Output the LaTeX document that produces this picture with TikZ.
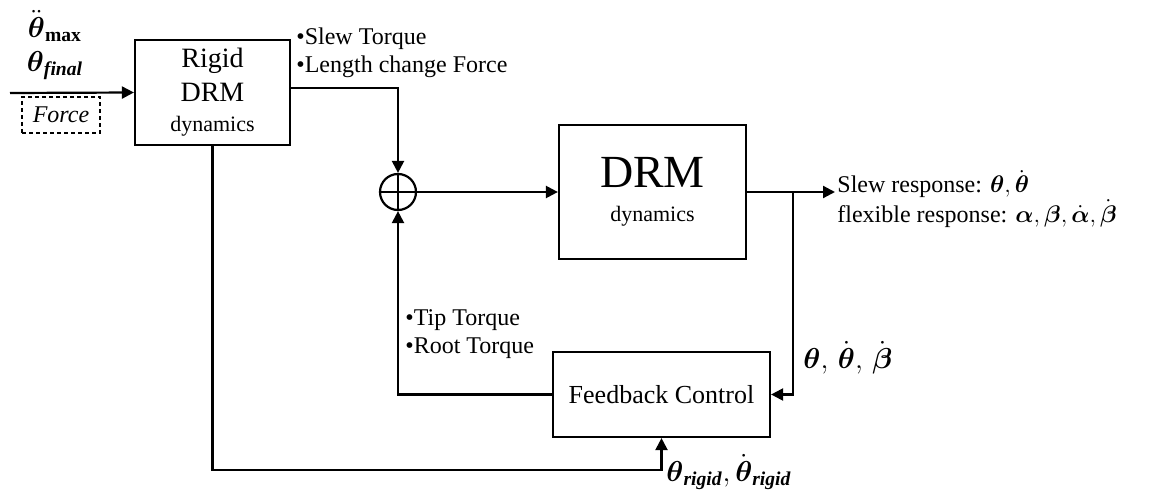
\documentclass[tikz,border=0pt]{standalone}
\usepackage{amsmath}
\usepackage{fontspec}
\setmainfont{Liberation Serif}
\usetikzlibrary{arrows.meta,positioning,calc}
\newcommand{\bsub}[1]{\text{\bfseries\itshape #1}}
\tikzset{
  block/.style={draw,line width=1.1pt,inner sep=0pt,align=center},
  sumnode/.style={draw,circle,line width=1.1pt,minimum size=18pt,inner sep=0pt,
    path picture={\draw[line width=1.1pt] (path picture bounding box.north) -- (path picture bounding box.south)
      (path picture bounding box.west) -- (path picture bounding box.east);}},
  sig/.style={-{Triangle[length=6pt,width=6pt]},line width=1.1pt},
  lbl/.style={inner sep=0pt,align=left},
}

\begin{document}
\begin{tikzpicture}[x=.5pt,y=-.5pt]
  \useasboundingbox (0,0) rectangle (1151,492);
  \node[block,minimum width=77.5pt,minimum height=52.5pt,font=\fontsize{14}{17}\selectfont] (rigid) at (212.5,92.5) {Rigid\\DRM\\[-2pt]{\fontsize{11}{13}\selectfont dynamics}};
  \node[block,minimum width=93.5pt,minimum height=67pt,font=\fontsize{23}{24}\selectfont] (drm) at (652.5,192) {DRM\\[-7pt]{\fontsize{11}{15}\selectfont dynamics}};
  \node[block,minimum width=108.5pt,minimum height=42.5pt,font=\fontsize{13}{15}\selectfont] (fb) at (661.5,394.5) {Feedback Control};
  \node[sumnode] (sum) at (398,192) {};

  \node[lbl,align=center,font=\fontsize{14}{17}\selectfont] (cmd) at (55,45) {$\ddot{\boldsymbol{\theta}}_{\mathbf{max}}$\\$\boldsymbol{\theta}_{\bsub{final}}$};
  \node[draw,dash pattern=on 2pt off 1.5pt,line width=.8pt,minimum width=39pt,minimum height=18pt,inner sep=0pt,font=\fontsize{12}{14}\selectfont\itshape] (force) at (61,115) {Force};
  \node[lbl,anchor=west,font=\fontsize{12}{14}\selectfont] (rigidout) at (296,53) {\textbullet Slew Torque\\\textbullet Length change Force};
  \node[lbl,anchor=west,font=\fontsize{12}{14}\selectfont] (fbout) at (405,334) {\textbullet Tip Torque\\\textbullet Root Torque};
  \node[lbl,anchor=west,font=\fontsize{12}{10.5}\selectfont] (resp) at (837,199) {Slew response: $\boldsymbol{\theta},\dot{\boldsymbol{\theta}}$\\flexible response: $\boldsymbol{\alpha},\boldsymbol{\beta},\dot{\boldsymbol{\alpha}},\dot{\boldsymbol{\beta}}$};
  \node[lbl,anchor=west,font=\fontsize{14}{17}\selectfont] (meas) at (803,358) {$\boldsymbol{\theta},\,\dot{\boldsymbol{\theta}},\,\dot{\boldsymbol{\beta}}$};
  \node[lbl,anchor=west,font=\fontsize{14}{17}\selectfont] (rigidst) at (666,472) {$\boldsymbol{\theta}_{\bsub{rigid}},\dot{\boldsymbol{\theta}}_{\bsub{rigid}}$};

  \coordinate (in) at (10,93);
  \coordinate (br) at (793,192);
  \coordinate (out) at (835,192);
  \coordinate (low) at (211,470);

  \draw[sig] (in) -- (rigid.west);
  \draw[sig] ([yshift=2.25pt]rigid.east) -| (sum.north);
  \draw[sig] (sum) -- (drm);
  \draw[sig] (drm.east) -- (out);
  \draw[sig] (br) |- (fb.east);
  \draw[sig] (fb.west) -| (sum.south);
  \draw[sig] (rigid.south) -- (rigid.south |- low) -| (fb.south);
\end{tikzpicture}
\end{document}
